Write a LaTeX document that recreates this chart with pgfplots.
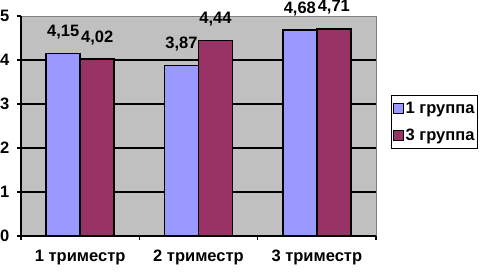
\documentclass[border=0pt]{standalone}
\usepackage{pgfplots}
\pgfplotsset{compat=1.18}
\usepackage{fontspec}
\setmainfont{Liberation Sans}
\definecolor{barA}{HTML}{9999FF}
\definecolor{barB}{HTML}{993366}
\definecolor{plotbg}{HTML}{C0C0C0}
\begin{document}
\fontsize{16.5}{19}\selectfont\bfseries
\begin{tikzpicture}[x=1pt,y=1pt]
\useasboundingbox (0,0) rectangle (491,274);
\begin{axis}[
  at={(21pt,38pt)}, anchor=south west,
  scale only axis, width=355pt, height=220pt,
  ybar=0pt, bar width=34pt,
  xmin=-0.5, xmax=2.5, ymin=0, ymax=5,
  xtick={0,1,2}, xticklabels={1 триместр, 2 триместр, 3 триместр},
  major x tick style={draw=none},
  extra x ticks={-0.5,0.5,1.5,2.5}, extra x tick labels={},
  extra x tick style={major x tick style={draw=black, line width=1.5pt}, grid=none},
  ytick={0,1,2,3,4}, extra y ticks={5}, extra y tick style={grid=none},
  ymajorgrids, grid style={black, line width=1.5pt},
  tick align=outside, major tick length=4pt,
  tick style={black, line width=1.5pt},
  axis x line*=bottom, axis y line*=left,
  axis line style={black, line width=1.5pt, -},
  axis background/.style={fill=plotbg, draw=gray},
  /pgf/number format/assume math mode=true,
  yticklabel style={xshift=-2pt},
  xticklabel style={yshift=-4pt},
  nodes near coords={\pgfmathprintnumber[fixed,fixed zerofill,precision=2,use comma,assume math mode=true]{\pgfplotspointmeta}},
  every node near coord/.append style={anchor=south, inner sep=0pt, yshift=13.5pt, black},
  legend style={at={(rel axis cs:1.042,0.641)}, anchor=north west, draw=black, line width=1.5pt, fill=white,
    inner xsep=1pt, inner ysep=4pt, row sep=9pt, /tikz/every odd column/.style={}},
  legend cell align=left,
  legend image code/.code={\draw[#1, line width=1pt] (0pt,-4.5pt) rectangle (10pt,5.5pt);},
]
\addplot[fill=barA, draw=black, line width=1.5pt] coordinates {(0,4.15) (1,3.87) (2,4.68)};
\addplot[fill=barB, draw=black, line width=1.5pt] coordinates {(0,4.02) (1,4.44) (2,4.71)};
\legend{1 группа, 3 группа}
\end{axis}
\end{tikzpicture}
\end{document}
